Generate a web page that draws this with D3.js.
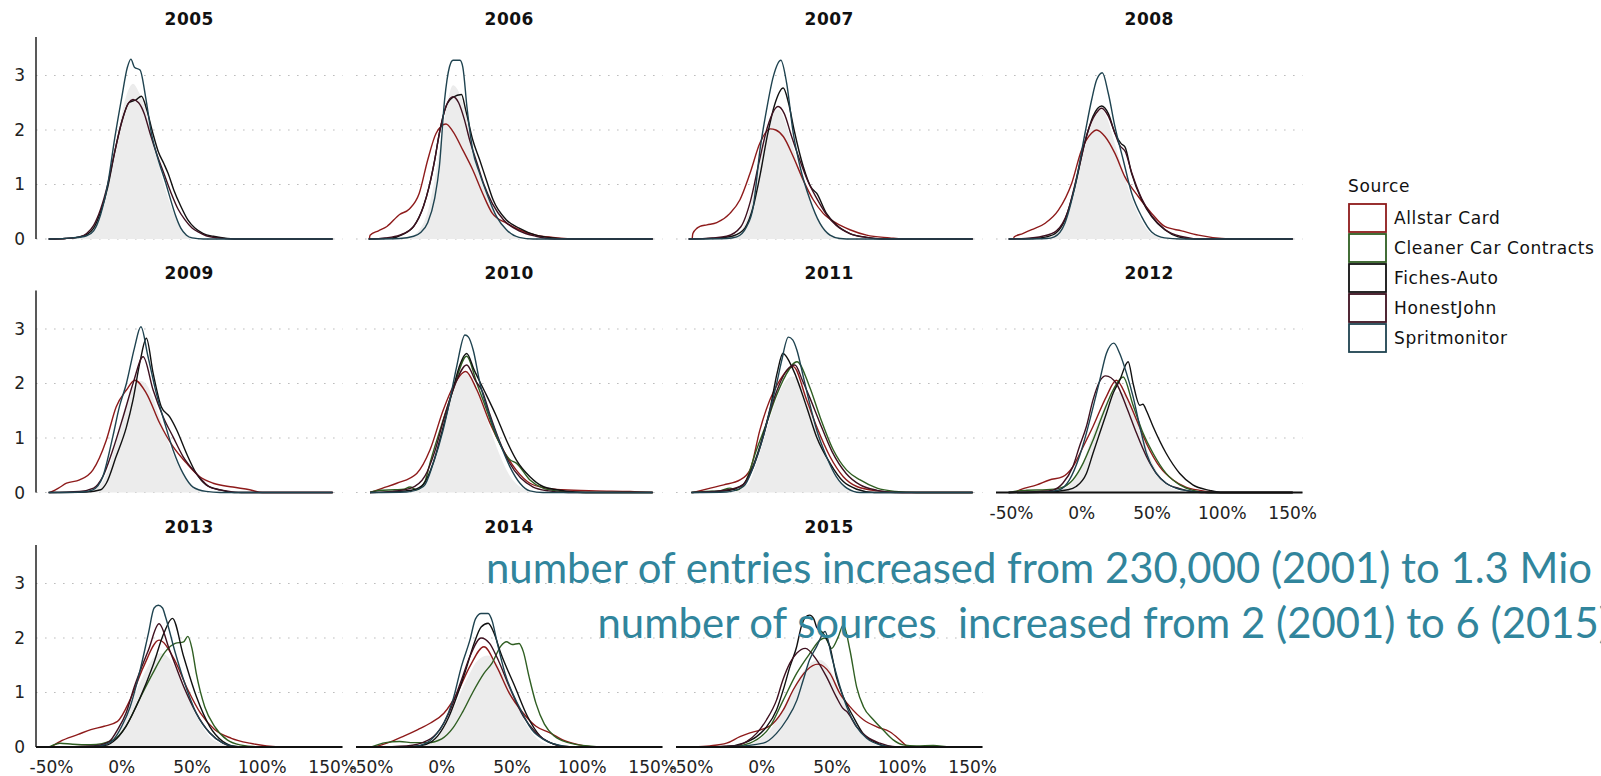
<!DOCTYPE html>
<html>
<head>
<meta charset="utf-8">
<script src="https://cdn.jsdelivr.net/npm/d3@7"></script>
<style>
  html, body { margin: 0; padding: 0; background: #fff; }
  svg { display: block; }
</style>
</head>
<body>
<svg id="chart" width="1601" height="776"></svg>
<script>
// ---- data -------------------------------------------------------------
const years = [2005, 2006, 2007, 2008, 2009, 2010, 2011, 2012, 2013, 2014, 2015];
const sources = ["Allstar Card", "Cleaner Car Contracts", "Fiches-Auto", "HonestJohn", "Spritmonitor"];
const yTicks = [0, 1, 2, 3];
const xTicks = [-50, 0, 50, 100, 150];
const xTickLabels = ["-50%", "0%", "50%", "100%", "150%"];
const notes = [
  "number of entries increased from 230,000 (2001) to 1.3 Mio",
  "number of sources  increased from 2 (2001) to 6 (2015)"
];

// density curves: one entry per year, each a list of [gap %, density]
const allstarCard = [
  null,
  [[-51.5,0],[-51,0.07],[-45,0.15],[-39,0.23],[-30,0.45],[-23,0.55],[-16,0.84],[-10,1.45],[-4,1.94],[3,2.11],[8,1.97],[15,1.63],[22,1.27],[29,0.84],[36,0.47],[46,0.29],[55,0.17],[67,0.07],[79,0.03],[98,0],[150,0]],
  [[-49.5,0],[-49,0.1],[-46,0.2],[-44,0.23],[-39,0.26],[-32,0.3],[-22.6,0.47],[-15.5,0.72],[-8.4,1.2],[-1.3,1.76],[6,2.02],[10,2.0],[15.3,1.88],[22.4,1.51],[29.5,1.08],[36.6,0.72],[43.7,0.47],[53,0.29],[62.7,0.17],[74.6,0.07],[91,0.02],[100,0],[150,0]],
  [[-48.5,0],[-48,0.04],[-42,0.1],[-35.6,0.17],[-26,0.29],[-16.6,0.53],[-7.2,1.02],[-0.2,1.63],[6.9,1.94],[10.6,2.0],[16.5,1.88],[23.6,1.57],[30.7,1.14],[40.2,0.78],[49.7,0.47],[59,0.23],[71,0.15],[83,0.07],[99.5,0.01],[110,0],[150,0]],
  [[-51,0],[-45,0.08],[-39.3,0.17],[-30,0.23],[-20.6,0.41],[-11,0.96],[-4,1.57],[3.3,1.88],[9.3,2.06],[17.5,1.82],[27,1.27],[36.5,0.84],[46,0.54],[55.5,0.29],[65,0.17],[79,0.1],[91,0.05],[100,0],[150,0]],
  [[-51,0],[-42,0.08],[-32,0.17],[-17.8,0.35],[-8.4,0.78],[1,1.51],[8,1.94],[17,2.22],[25,1.88],[34.3,1.27],[43.7,0.78],[53,0.41],[62.7,0.17],[74.6,0.08],[86,0.05],[110,0.03],[134,0.02],[150,0]],
  [[-48.7,0],[-36.6,0.08],[-27,0.14],[-15.5,0.23],[-8.4,0.41],[-1.3,1.15],[5.8,1.7],[12.9,2.06],[22.4,2.31],[31.9,1.7],[39,1.21],[48.5,0.66],[58,0.29],[67.6,0.11],[82,0.03],[100,0],[150,0]],
  [[-48,0],[-44,0.05],[-32,0.14],[-23,0.23],[-13.5,0.29],[-6.4,0.47],[1,0.84],[8,1.21],[17.5,1.76],[24.6,2.06],[31.8,1.76],[39,1.33],[46,0.9],[55.5,0.47],[65,0.23],[74,0.1],[84,0.04],[93,0.01],[100,0],[150,0]],
  [[-51,0],[-50,0.01],[-44,0.1],[-31,0.23],[-22,0.32],[-12.5,0.38],[-3,0.47],[6,0.87],[15.6,1.48],[26.5,1.96],[37.5,1.6],[47,1.05],[56,0.62],[66,0.32],[78,0.16],[91,0.07],[103,0.02],[115,0],[150,0]],
  [[-48,0],[-39,0.07],[-27,0.2],[-17,0.32],[-8,0.44],[1.5,0.62],[11,0.99],[20,1.48],[30,1.84],[39,1.48],[48,0.99],[58,0.62],[67,0.38],[77,0.26],[86,0.13],[98,0.04],[110,0],[150,0]],
  [[-48.7,0],[-37,0.02],[-25,0.07],[-15.5,0.19],[-8.4,0.26],[-1.3,0.31],[8,0.43],[15.3,0.68],[22.4,1.05],[32,1.41],[40,1.52],[48.5,1.35],[55.6,0.98],[62.7,0.74],[72.3,0.5],[81.8,0.37],[91,0.28],[98.3,0.13],[103,0.02],[106,0],[150,0]]
];

const cleanerCarContracts = [
  null, null, null, null, null,
  [[-51,0],[-44,0.04],[-33,0.05],[-27,0.06],[-22.6,0.1],[-18,0.05],[-12,0.2],[-8.4,0.54],[1,1.33],[8,1.88],[17.7,2.5],[25,2.0],[32,1.51],[39,1.02],[48.5,0.6],[53,0.54],[62.7,0.23],[72,0.08],[85,0.02],[100,0],[150,0]],
  [[-50,0],[-40,0.02],[-30,0.03],[-22.6,0.08],[-18,0.04],[-11,0.23],[-3.8,0.78],[3.4,1.27],[10,1.75],[17,2.15],[25,2.4],[34,1.94],[41.4,1.39],[50.9,0.78],[60.4,0.41],[70,0.23],[82,0.08],[95,0.02],[110,0],[150,0]],
  [[-52,0],[-48,0.02],[-39,0.04],[-25,0.05],[-15.6,0.08],[-6.4,0.23],[1,0.54],[8,0.96],[15.2,1.45],[22.3,1.88],[29.4,2.12],[36.5,1.6],[43.6,1.09],[50.7,0.72],[60,0.35],[69.7,0.14],[79,0.04],[90,0],[150,0]],
  [[-52,0],[-50,0.02],[-44,0.07],[-35,0.05],[-22,0.04],[-6,0.13],[3,0.38],[12.5,0.87],[22,1.35],[31,1.75],[38,1.9],[44,1.93],[47,2.03],[50,1.8],[53,1.35],[59,0.74],[66,0.38],[75,0.13],[84,0.04],[100,0],[150,0]],
  [[-50,0],[-40,0.08],[-30,0.1],[-20,0.08],[-10,0.08],[0,0.15],[8,0.35],[15,0.65],[22,1.0],[30,1.35],[36,1.55],[42,1.85],[46,1.93],[50,1.88],[55,1.9],[58,1.75],[62,1.3],[67,0.8],[73,0.42],[80,0.2],[90,0.08],[100,0.03],[120,0],[150,0]],
  [[-50,0],[-20,0.01],[-8.4,0.07],[5.8,0.37],[15.3,0.86],[24.8,1.35],[34.3,1.72],[41.4,1.96],[45,2.0],[49.7,1.81],[54.4,2.02],[58,2.24],[62.7,1.78],[67.5,1.1],[72.3,0.74],[79.4,0.5],[86.4,0.31],[93.5,0.13],[100.6,0.04],[110,0.02],[122,0.03],[134,0],[150,0]]
];

const fichesAuto = [
  [[-52,0],[-40,0.01],[-30,0.04],[-25,0.08],[-20,0.2],[-15,0.5],[-10,0.95],[-5,1.6],[0,2.15],[5,2.5],[10,2.55],[14,2.62],[18,2.35],[22,1.95],[26,1.6],[30,1.38],[33,1.2],[37,0.9],[42,0.6],[47,0.35],[52,0.2],[58,0.1],[65,0.05],[75,0.01],[85,0],[150,0]],
  [[-52,0],[-35,0.02],[-28,0.08],[-20,0.23],[-13,0.6],[-9,0.96],[-5,1.45],[-1.7,1.94],[3,2.43],[8,2.6],[14,2.65],[17,2.37],[22,1.82],[27,1.45],[32,1.06],[36.5,0.72],[46,0.35],[55,0.2],[67,0.07],[79,0.02],[90,0],[150,0]],
  [[-52,0],[-30,0.02],[-20,0.06],[-12,0.2],[-6,0.6],[-1,1.2],[4,1.9],[9,2.45],[15.3,2.77],[19,2.5],[23,2.0],[29.5,1.33],[35,0.95],[39,0.84],[46,0.47],[53,0.26],[62.7,0.1],[74.6,0.03],[85,0],[150,0]],
  [[-52,0],[-35,0.01],[-25,0.04],[-18,0.12],[-12,0.35],[-5,0.95],[2,1.75],[8,2.25],[14.1,2.44],[18.9,2.3],[23.6,1.94],[28,1.75],[30.7,1.69],[35.5,1.2],[42.6,0.72],[49.7,0.41],[59,0.17],[68.6,0.04],[80,0],[150,0]],
  [[-52,0],[-25,0.01],[-15,0.05],[-11,0.17],[-4,0.66],[3.3,1.2],[8,1.7],[13,2.4],[17.5,2.83],[22.3,2.19],[28.2,1.57],[34,1.39],[39,1.15],[46,0.72],[53,0.35],[60,0.14],[69.7,0.05],[80,0],[150,0]],
  [[-51,0],[-30,0.02],[-20,0.05],[-13,0.15],[-6,0.55],[1,1.2],[8,1.9],[13,2.35],[17.7,2.55],[23,2.25],[30,1.88],[39,1.39],[46,0.96],[53,0.6],[62.7,0.29],[72,0.11],[82,0.05],[95,0.01],[110,0],[150,0]],
  [[-50,0],[-30,0.02],[-20,0.06],[-13,0.15],[-6,0.5],[1,1.05],[6,1.55],[11,2.2],[15,2.55],[22.4,2.25],[31.9,1.57],[39,1.02],[48.5,0.54],[58,0.2],[67.6,0.06],[80,0],[150,0]],
  [[-52,0],[-25,0.01],[-10,0.05],[-4,0.11],[3.3,0.35],[8,0.72],[12.8,1.09],[17.5,1.45],[22.3,1.82],[27,2.06],[33,2.4],[36.5,2.0],[41.3,1.6],[43.5,1.62],[46,1.5],[50.7,1.21],[60,0.72],[69.7,0.35],[79,0.14],[91,0.04],[100,0],[150,0]],
  [[-52,0],[-20,0.01],[-10,0.04],[-6,0.1],[3,0.38],[12.5,0.87],[22,1.48],[30,2.09],[36,2.36],[44,1.66],[53,0.93],[62.5,0.38],[72,0.1],[81,0.01],[90,0],[150,0]],
  [[-50,0],[-20,0.01],[-11,0.05],[-3,0.2],[5,0.55],[11,0.95],[17,1.41],[23,1.9],[28,2.2],[33,2.27],[37,2.1],[42,1.72],[52,1.11],[61,0.56],[70,0.2],[80,0.05],[90,0],[150,0]],
  [[-50,0],[-25,0.01],[-13,0.07],[-3.7,0.19],[3.4,0.37],[10.5,0.68],[15.3,1.05],[20,1.47],[24.8,1.84],[28,2.2],[31,2.38],[34,2.42],[37,2.35],[39,2.2],[43.8,2.08],[48.5,1.84],[53,1.29],[58,0.92],[65,0.56],[72,0.25],[82,0.07],[91,0],[150,0]]
];

const honestJohn = [
  [[-52,0],[-40,0.01],[-30,0.04],[-25,0.1],[-20,0.25],[-15,0.55],[-10,1.0],[-5,1.6],[0,2.15],[5,2.5],[8,2.56],[12,2.5],[16,2.3],[20,1.95],[25,1.55],[30,1.2],[35,0.85],[40,0.55],[45,0.35],[50,0.2],[55,0.12],[60,0.06],[68,0.02],[80,0],[150,0]],
  [[-52,0],[-40,0.02],[-30,0.07],[-20,0.23],[-13,0.6],[-9,0.96],[-5,1.45],[-1.7,1.94],[3,2.43],[8,2.61],[12,2.5],[16,2.2],[20,1.8],[25,1.4],[30,1.0],[36,0.65],[44,0.35],[55,0.15],[67,0.05],[80,0],[150,0]],
  [[-52,0],[-35,0.02],[-25,0.05],[-15,0.22],[-8,0.7],[-2,1.4],[4,2.05],[11.7,2.43],[16,2.3],[21,1.9],[27,1.45],[33,1.05],[39,0.75],[46,0.45],[53,0.25],[62.7,0.1],[74.6,0.03],[90,0],[150,0]],
  [[-52,0],[-40,0.01],[-28,0.05],[-18,0.15],[-10,0.5],[-3,1.2],[4,1.95],[10,2.3],[14.1,2.4],[19,2.25],[23.6,1.94],[27,1.72],[31,1.6],[35.5,1.22],[42.6,0.74],[49.7,0.43],[59,0.18],[70,0.05],[85,0],[150,0]],
  [[-52,0],[-30,0.02],[-20,0.08],[-13.5,0.29],[-6.4,0.78],[1,1.39],[8,2.0],[15.2,2.49],[22.3,1.88],[29.4,1.39],[36.5,1.02],[43.6,0.66],[53,0.35],[62.6,0.1],[74.4,0.03],[85,0],[150,0]],
  [[-51,0],[-35,0.02],[-22,0.08],[-12,0.3],[-5,0.75],[2,1.4],[9,1.95],[17.7,2.34],[24,2.05],[29,1.85],[34,1.45],[41,0.95],[48,0.55],[56,0.27],[65,0.1],[76,0.03],[90,0],[150,0]],
  [[-50,0],[-35,0.02],[-22,0.06],[-13,0.15],[-6,0.47],[1,1.02],[6,1.5],[12,1.95],[18,2.25],[23.6,2.34],[29,2.05],[34,1.75],[41,1.3],[50,0.75],[60,0.35],[70,0.14],[82,0.04],[95,0],[150,0]],
  [[-52,0],[-30,0.02],[-21,0.04],[-13.5,0.17],[-6.4,0.47],[-1.7,0.84],[3.3,1.21],[8,1.7],[13,2.05],[17,2.14],[24.6,2.0],[31.8,1.57],[38.9,1.09],[46,0.66],[53,0.35],[60,0.17],[69.7,0.07],[80,0.01],[90,0],[150,0]],
  [[-52,0],[-20,0.02],[-9,0.1],[-3,0.32],[3,0.62],[9,1.11],[19,1.78],[26.5,2.26],[34,1.78],[44,1.11],[53,0.62],[62.5,0.26],[72,0.07],[82,0],[150,0]],
  [[-50,0],[-25,0.02],[-10,0.12],[-1.5,0.32],[5,0.62],[14,1.23],[20,1.66],[28,2.0],[34,1.9],[39,1.66],[48,1.11],[58,0.56],[67,0.26],[77,0.08],[88,0.01],[100,0],[150,0]],
  [[-50,0],[-20,0.02],[-10.8,0.1],[-3.7,0.25],[3.4,0.5],[10.5,0.86],[15,1.23],[20,1.54],[24.8,1.72],[31,1.81],[39,1.6],[46,1.29],[53,0.92],[58,0.7],[60.5,0.65],[67.5,0.37],[74.6,0.19],[84,0.07],[93,0.01],[100,0],[150,0]]
];

const spritmonitor = [
  [[-52,0],[-35,0.02],[-25,0.06],[-20,0.15],[-15,0.45],[-10,1.0],[-5,1.85],[0,2.6],[4,3.15],[6.5,3.3],[9,3.15],[13,3.1],[17,2.6],[21,1.95],[26,1.45],[31,1.05],[35,0.7],[38,0.45],[42,0.2],[46,0.07],[50,0.02],[58,0],[150,0]],
  [[-52,0],[-30,0.01],[-20,0.05],[-15,0.12],[-10,0.3],[-5,0.75],[-1.7,1.33],[2,2.55],[5.5,3.16],[8,3.28],[13,3.28],[15,3.15],[18,2.4],[22,1.63],[27,1.2],[32,0.84],[39,0.41],[46,0.17],[55,0.03],[65,0],[150,0]],
  [[-52,0],[-25,0.01],[-17.8,0.04],[-10.7,0.23],[-6,0.6],[-1.3,1.63],[3.4,2.37],[8.2,2.98],[13.6,3.28],[17.7,2.86],[22.4,1.94],[27.2,1.33],[34.3,0.72],[41.3,0.29],[48.5,0.07],[55.5,0.01],[65,0],[150,0]],
  [[-52,0],[-25,0.01],[-19.5,0.04],[-12,0.29],[-4.9,0.96],[2.3,1.94],[7,2.55],[10.6,2.92],[14.6,3.05],[18.9,2.67],[23.6,2.06],[29.5,1.45],[35.5,0.84],[42.6,0.41],[49.7,0.13],[59,0.02],[70,0],[150,0]],
  [[-52,0],[-28,0.01],[-20.6,0.05],[-13.5,0.29],[-6.4,1.02],[-1.7,1.57],[3.3,2.0],[9,2.65],[13.6,3.04],[18.7,2.49],[24.6,1.82],[30.6,1.27],[36.5,0.78],[43.6,0.35],[50.7,0.1],[60,0.02],[70,0],[150,0]],
  [[-51,0],[-25,0.01],[-13,0.11],[-6,0.54],[1,1.15],[5.8,1.7],[10.6,2.31],[16.5,2.89],[19,2.85],[22.4,2.61],[27.2,2.0],[34.3,1.39],[41.4,0.9],[48.5,0.47],[55.6,0.17],[62.7,0.03],[72,0],[150,0]],
  [[-50,0],[-25,0.01],[-13,0.11],[-6,0.47],[1,1.02],[5.8,1.51],[10.6,2.0],[14,2.4],[18.9,2.85],[22,2.8],[25,2.61],[29.5,2.13],[34,1.64],[39,1.15],[46,0.66],[53,0.29],[60.5,0.08],[70,0],[150,0]],
  [[-52,0],[-25,0.01],[-15.6,0.05],[-8.8,0.23],[-1.7,0.66],[3.3,1.09],[8.1,1.57],[12.8,2.06],[17.5,2.55],[22.8,2.74],[27,2.55],[31.8,2.19],[36.5,1.76],[41.3,1.21],[46,0.72],[53,0.35],[60,0.17],[67,0.08],[79,0.02],[90,0],[150,0]],
  [[-52,0],[-20,0.01],[-12.5,0.04],[-6,0.13],[0,0.38],[6,0.74],[12.5,1.35],[19,2.09],[23,2.55],[26,2.6],[29,2.55],[31,2.4],[37.5,1.78],[44,1.23],[53,0.62],[62.5,0.26],[72,0.07],[81,0.01],[90,0],[150,0]],
  [[-50,0],[-20,0.01],[-11,0.07],[-5,0.2],[1.5,0.44],[8,0.87],[14,1.48],[20,1.96],[24,2.35],[28,2.45],[33,2.45],[36,2.3],[39,1.96],[45,1.35],[55,0.74],[64,0.32],[73,0.13],[86,0.02],[95,0],[150,0]],
  [[-50,0],[-20,0.01],[1,0.07],[10.5,0.25],[17.7,0.5],[25,0.86],[29.5,1.23],[34,1.6],[39,1.84],[45,2.12],[49.7,1.66],[55.6,1.11],[60.4,0.74],[67.5,0.37],[74.6,0.16],[84,0.04],[95,0],[150,0]]
];

// all sources pooled, drawn as the grey shaded density
const allSourcesPooled = [
  [[-52,0],[-30,0.02],[-20,0.15],[-15,0.4],[-10,0.9],[-5,1.6],[0,2.3],[5,2.75],[8,2.85],[12,2.7],[16,2.45],[20,2.05],[25,1.5],[30,1.0],[35,0.6],[40,0.3],[45,0.12],[52,0.03],[60,0],[150,0]],
  [[-52,0],[-25,0.02],[-15,0.2],[-10,0.5],[-5,1.1],[0,1.9],[4,2.5],[8,2.82],[11,2.75],[15,2.5],[20,1.95],[25,1.45],[30,1.0],[35,0.62],[42,0.28],[50,0.08],[60,0.01],[70,0],[150,0]],
  [[-52,0],[-25,0.02],[-15,0.15],[-8,0.6],[-2,1.35],[4,2.0],[9,2.35],[12,2.38],[16,2.2],[21,1.8],[27,1.25],[33,0.8],[40,0.38],[47,0.13],[55,0.03],[65,0],[150,0]],
  [[-52,0],[-25,0.02],[-15,0.2],[-8,0.6],[-2,1.3],[5,2.0],[10,2.3],[14,2.37],[18,2.22],[23,1.8],[29,1.28],[35,0.78],[42,0.36],[49,0.11],[58,0.02],[70,0],[150,0]],
  [[-52,0],[-25,0.02],[-15,0.15],[-8,0.55],[-2,1.2],[5,1.75],[10,2.0],[13,2.05],[17,2.0],[22,1.75],[28,1.3],[35,0.8],[42,0.4],[50,0.12],[60,0.02],[70,0],[150,0]],
  [[-51,0],[-25,0.02],[-12,0.2],[-5,0.65],[2,1.35],[9,1.95],[14,2.15],[17,2.19],[21,2.1],[27,1.75],[34,1.2],[41,0.7],[48,0.32],[56,0.1],[65,0.02],[75,0],[150,0]],
  [[-50,0],[-25,0.02],[-10,0.15],[-3,0.6],[4,1.2],[11,1.75],[17,2.05],[22,2.13],[27,2.0],[33,1.6],[40,1.05],[47,0.58],[55,0.22],[63,0.06],[72,0],[150,0]],
  [[-52,0],[-20,0.02],[-8,0.15],[0,0.5],[7,1.0],[14,1.45],[20,1.75],[26,1.85],[32,1.75],[38,1.4],[45,0.9],[52,0.46],[60,0.16],[68,0.04],[78,0],[150,0]],
  [[-52,0],[-20,0.02],[-8,0.15],[0,0.45],[8,0.9],[16,1.35],[23,1.65],[28,1.72],[34,1.62],[40,1.35],[47,0.92],[55,0.48],[63,0.18],[72,0.05],[82,0],[150,0]],
  [[-50,0],[-20,0.02],[-8,0.12],[2,0.4],[10,0.8],[18,1.25],[26,1.6],[33,1.68],[39,1.55],[46,1.2],[53,0.8],[60,0.42],[68,0.15],[78,0.03],[88,0],[150,0]],
  [[-50,0],[-15,0.02],[-3,0.12],[7,0.35],[16,0.75],[25,1.2],[33,1.5],[41,1.6],[48,1.45],[55,1.05],[62,0.62],[70,0.28],[78,0.08],[88,0.01],[98,0],[150,0]]
];

const seriesBySource = [allstarCard, cleanerCarContracts, fichesAuto, honestJohn, spritmonitor];

// ---- styling & layout -------------------------------------------------
const lineColors = ["#8e1b1b", "#2f5e22", "#111111", "#3e1120", "#1f4350"];
const font = "'DejaVu Sans', sans-serif";
const ncol = 4;
const panelLeft0 = 36, colStep = 320, panelW = 306.5, panelH = 202;
const rowBase = [239, 492.5, 747];
const xDomain = [-61, 157];
const yDomain = [0, 3.706];

const svg = d3.select("#chart");

const line = (x, y) => d3.line().x(d => x(d[0])).y(d => y(d[1])).curve(d3.curveMonotoneX);
const area = (x, y) => d3.area().x(d => x(d[0])).y0(y(0)).y1(d => y(d[1])).curve(d3.curveMonotoneX);

years.forEach((year, i) => {
  const col = i % ncol, row = Math.floor(i / ncol);
  const left = panelLeft0 + col * colStep;
  const base = rowBase[row];
  const x = d3.scaleLinear().domain(xDomain).range([left, left + panelW]);
  const y = d3.scaleLinear().domain(yDomain).range([base, base - panelH]);
  const g = svg.append("g").attr("class", "panel");

  // dotted horizontal gridlines
  g.selectAll("line.grid").data(yTicks).join("line")
    .attr("class", "grid")
    .attr("x1", left).attr("x2", left + panelW)
    .attr("y1", d => y(d)).attr("y2", d => y(d))
    .attr("stroke", "#bdbdbd").attr("stroke-width", 1.2)
    .attr("stroke-dasharray", "1.6,7.4");

  // pooled density (grey fill)
  g.append("path").datum(allSourcesPooled[i])
    .attr("d", area(x, y))
    .attr("fill", "#ececec");

  // one density line per source
  seriesBySource.forEach((series, s) => {
    const pts = series[i];
    if (!pts) return;
    g.append("path").datum(pts)
      .attr("d", line(x, y))
      .attr("fill", "none")
      .attr("stroke", lineColors[s])
      .attr("stroke-width", 1.4)
      .attr("stroke-linejoin", "round");
  });

  // panel title
  svg.append("text")
    .attr("x", left + panelW / 2).attr("y", base - 220)
    .attr("text-anchor", "middle").attr("dominant-baseline", "central")
    .attr("font-family", font).attr("font-weight", "bold")
    .attr("font-size", 17).attr("letter-spacing", 0.5)
    .attr("fill", "#111").text(year);

  // y axis on the first column
  if (col === 0) {
    svg.append("line")
      .attr("x1", left).attr("x2", left)
      .attr("y1", base - panelH).attr("y2", base)
      .attr("stroke", "#222").attr("stroke-width", 1.5);
    svg.selectAll(null).data(yTicks).join("text")
      .attr("x", 25).attr("y", d => y(d))
      .attr("text-anchor", "end").attr("dominant-baseline", "central")
      .attr("font-family", font).attr("font-size", 17)
      .attr("fill", "#222").text(d => d);
  }

  // x axis where no panel sits below
  if (i + ncol >= years.length) {
    svg.append("line")
      .attr("x1", left).attr("x2", left + panelW)
      .attr("y1", base).attr("y2", base)
      .attr("stroke", "#111").attr("stroke-width", 2);
    svg.selectAll(null).data(xTicks).join("text")
      .attr("x", d => x(d)).attr("y", base + 20)
      .attr("text-anchor", "middle").attr("dominant-baseline", "central")
      .attr("font-family", font).attr("font-size", 17)
      .attr("fill", "#222").text((d, k) => xTickLabels[k]);
  }
});

// ---- legend -----------------------------------------------------------
const lg = svg.append("g").attr("transform", "translate(1348,0)");
lg.append("text").attr("x", 0).attr("y", 186)
  .attr("dominant-baseline", "central")
  .attr("font-family", font).attr("font-size", 17).attr("letter-spacing", 0.6)
  .attr("fill", "#111").text("Source");
sources.forEach((name, s) => {
  const top = 203 + s * 30;
  lg.append("rect")
    .attr("x", 1).attr("y", top + 1).attr("width", 37).attr("height", 28)
    .attr("fill", "#fff").attr("stroke", lineColors[s]).attr("stroke-width", 1.8);
  lg.append("text").attr("x", 46).attr("y", top + 15)
    .attr("dominant-baseline", "central")
    .attr("font-family", font).attr("font-size", 17).attr("letter-spacing", 0.6)
    .attr("fill", "#111").text(name);
});

// ---- notes over the chart ---------------------------------------------
const noteStarts = [486, 597.5];
const noteBaselines = [583, 638];
const probe = svg.append("text")
  .attr("font-family", "Lato, sans-serif").attr("font-size", 40)
  .style("white-space", "pre").text(notes[0]);
const noteSize = 40 * 1106 / probe.node().getComputedTextLength();
probe.remove();
notes.forEach((t, k) => {
  svg.append("text")
    .attr("x", noteStarts[k]).attr("y", noteBaselines[k])
    .attr("font-family", "Lato, sans-serif").attr("font-size", noteSize)
    .style("white-space", "pre")
    .attr("fill", "#31859c").text(t);
});
</script>
</body>
</html>
